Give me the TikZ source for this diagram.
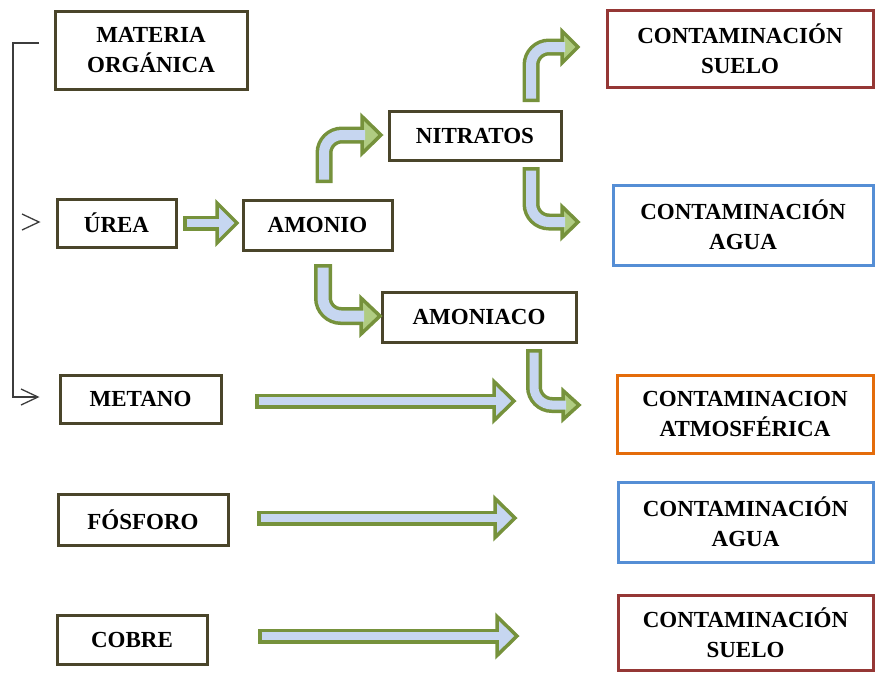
\documentclass[tikz,border=0pt]{standalone}
\usepackage{fontspec}
\setmainfont{Liberation Serif}
\usetikzlibrary{calc}

\definecolor{boxdark}{RGB}{74,69,42}
\definecolor{boxred}{RGB}{149,55,53}
\definecolor{boxblue}{RGB}{85,142,213}
\definecolor{boxorange}{RGB}{228,108,10}
\definecolor{arrowgreen}{RGB}{118,146,60}
\definecolor{arrowblue}{RGB}{198,214,240}
\definecolor{arrowlight}{RGB}{176,204,130}
\definecolor{bracketgray}{RGB}{60,60,60}

\begin{document}
\begin{tikzpicture}[x=1pt,y=-1pt,
  box/.style={draw=#1, line width=3pt, fill=white, inner sep=0pt, align=center,
    font=\fontsize{23}{30}\selectfont\bfseries},
  box/.default=boxdark,
  rim/.style={draw=arrowgreen, line width=#1, rounded corners=18pt},
  core/.style={draw=arrowblue, line width=#1, rounded corners=18pt},
  head/.style={draw=arrowgreen, line width=3.5pt, line join=miter, fill=#1},
  head/.default=arrowblue,
  bracket/.style={draw=bracketgray, line width=1.4pt},
  chevron/.style={draw=bracketgray, line width=1.3pt, line join=miter}
]
\useasboundingbox (0,0) rectangle (876,673);

% ---- source boxes ----
\node[box, minimum width=192pt, minimum height=78pt] (mo) at (151,50) {MATERIA\\ORGÁNICA};
\node[box, minimum width=119pt, minimum height=48pt] (urea) at (116.5,223) {ÚREA};
\node[box, minimum width=149pt, minimum height=50pt] (amonio) at (317.5,225) {AMONIO};
\node[box, minimum width=172pt, minimum height=49pt] (nitratos) at (475,135.5) {NITRATOS};
\node[box, minimum width=194pt, minimum height=50pt] (amoniaco) at (479,317) {AMONIACO};
\node[box, minimum width=161pt, minimum height=48pt] (metano) at (140.5,399) {METANO};
\node[box, minimum width=170pt, minimum height=51pt] (fosforo) at (143,519.5) {FÓSFORO};
\node[box, minimum width=150pt, minimum height=49pt] (cobre) at (132,639.5) {COBRE};

% ---- effect boxes ----
\node[box=boxred, minimum width=266pt, minimum height=77pt] (suelo1) at (740,48.5) {CONTAMINACIÓN\\SUELO};
\node[box=boxblue, minimum width=260pt, minimum height=80pt] (agua1) at (743,225) {CONTAMINACIÓN\\AGUA};
\node[box=boxorange, minimum width=256pt, minimum height=78pt] (atmos) at (745,414) {CONTAMINACION\\ATMOSFÉRICA};
\node[box=boxblue, minimum width=255pt, minimum height=80pt] (agua2) at (745.5,522) {CONTAMINACIÓN\\AGUA};
\node[box=boxred, minimum width=255pt, minimum height=75pt] (suelo2) at (745.5,632.5) {CONTAMINACIÓN\\SUELO};

% ---- bracket from the organic matter box ----
\coordinate (brTop) at (39,43);
\coordinate (brCorner) at (13,43);
\coordinate (brBottom) at (13,397);
\coordinate (brEnd) at (38,397);
\draw[bracket] (brTop) -- (brCorner) -- (brBottom) -- (brEnd);
\coordinate (chUrea) at (39,222);
\draw[chevron] ($(chUrea)+(-17,-8)$) -- (chUrea) -- ($(chUrea)+(-17,8)$);
\draw[chevron] ($(brEnd)+(-17,-8)$) -- (brEnd) -- ($(brEnd)+(-17,8)$);

% ---- straight block arrows ----
% urea -> amonio
\coordinate (s1a) at (183,223); \coordinate (s1b) at (217,223);
\draw[rim=15pt] (s1a) -- (s1b);
\draw[head] (s1b) ++(0,-20) -- ++(20,20) -- ++(-20,20) -- cycle;
\draw[core=8pt] ($(s1a)+(3.5,0)$) -- ($(s1b)+(3,0)$);
% metano
\coordinate (s2a) at (255,401); \coordinate (s2b) at (494,401);
\draw[rim=15pt] (s2a) -- (s2b);
\draw[head] (s2b) ++(0,-19.5) -- ++(20,19.5) -- ++(-20,19.5) -- cycle;
\draw[core=8pt] ($(s2a)+(3.5,0)$) -- ($(s2b)+(3,0)$);
% fosforo
\coordinate (s3a) at (257,518); \coordinate (s3b) at (495,518);
\draw[rim=15pt] (s3a) -- (s3b);
\draw[head] (s3b) ++(0,-19.5) -- ++(20,19.5) -- ++(-20,19.5) -- cycle;
\draw[core=8pt] ($(s3a)+(3.5,0)$) -- ($(s3b)+(3,0)$);
% cobre
\coordinate (s4a) at (258,636); \coordinate (s4b) at (497,636);
\draw[rim=15pt] (s4a) -- (s4b);
\draw[head] (s4b) ++(0,-19.5) -- ++(20,19.5) -- ++(-20,19.5) -- cycle;
\draw[core=8pt] ($(s4a)+(3.5,0)$) -- ($(s4b)+(3,0)$);

% ---- bent block arrows ----
% amonio -> nitratos
\coordinate (b1a) at (324,183); \coordinate (b1c) at (324,135); \coordinate (b1b) at (362,135);
\draw[rim=17pt] (b1a) -- (b1c) -- (b1b);
\draw[head=arrowlight] (b1b) ++(0,-18.5) -- ++(19,18.5) -- ++(-19,18.5) -- cycle;
\draw[core=10pt] ($(b1a)+(0,-3.5)$) -- (b1c) -- ($(b1b)+(3,0)$);
% nitratos -> suelo
\coordinate (b2a) at (531,102); \coordinate (b2c) at (531,47); \coordinate (b2b) at (562,47);
\draw[rim=17pt] (b2a) -- (b2c) -- (b2b);
\draw[head=arrowlight] (b2b) ++(0,-16) -- ++(16,16) -- ++(-16,16) -- cycle;
\draw[core=10pt] ($(b2a)+(0,-3.5)$) -- (b2c) -- ($(b2b)+(3,0)$);
% nitratos -> agua
\coordinate (b3a) at (531,167); \coordinate (b3c) at (531,222); \coordinate (b3b) at (562,222);
\draw[rim=17pt] (b3a) -- (b3c) -- (b3b);
\draw[head=arrowlight] (b3b) ++(0,-15.5) -- ++(16,15.5) -- ++(-16,15.5) -- cycle;
\draw[core=10pt] ($(b3a)+(0,3.5)$) -- (b3c) -- ($(b3b)+(3,0)$);
% amonio -> amoniaco
\coordinate (b4a) at (323,264); \coordinate (b4c) at (323,316); \coordinate (b4b) at (361,316);
\draw[rim=18pt] (b4a) -- (b4c) -- (b4b);
\draw[head=arrowlight] (b4b) ++(0,-18) -- ++(19,18) -- ++(-19,18) -- cycle;
\draw[core=11pt] ($(b4a)+(0,3.5)$) -- (b4c) -- ($(b4b)+(3,0)$);
% amoniaco -> atmosferica
\coordinate (b5a) at (534,349); \coordinate (b5c) at (534,405); \coordinate (b5b) at (563,405);
\draw[rim=16pt] (b5a) -- (b5c) -- (b5b);
\draw[head=arrowlight] (b5b) ++(0,-14.5) -- ++(16,14.5) -- ++(-16,14.5) -- cycle;
\draw[core=9pt] ($(b5a)+(0,3.5)$) -- (b5c) -- ($(b5b)+(3,0)$);
\end{tikzpicture}
\end{document}
